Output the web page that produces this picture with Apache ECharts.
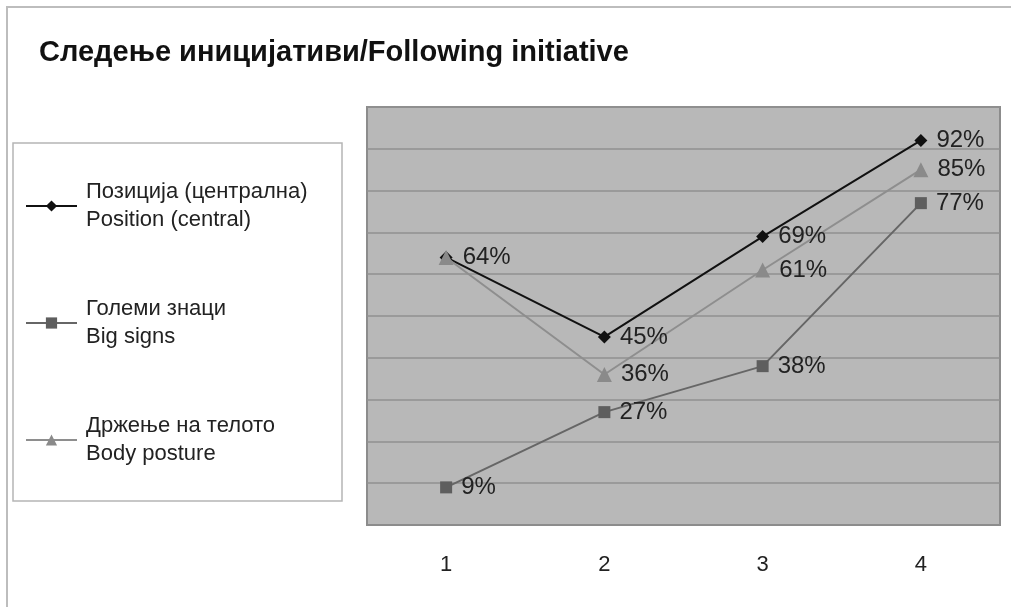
<!DOCTYPE html>
<html>
<head>
<meta charset="utf-8">
<script src="https://cdn.jsdelivr.net/npm/echarts@6/dist/echarts.min.js"></script>
<style>
  html, body { margin: 0; padding: 0; background: #fff; }
  #chart { width: 1011px; height: 607px; }
</style>
</head>
<body>
<div id="chart"></div>
<script>
  // data
  var categories = ['1', '2', '3', '4'];
  var positionValues = [64, 45, 69, 92];
  var bigSignsValues = [9, 27, 38, 77];
  var postureValues = [64, 36, 61, 85];
  var seriesNames = [
    'Позиција (централна)\nPosition (central)',
    'Големи знаци\nBig signs',
    'Држење на телото\nBody posture'
  ];

  var myChart = echarts.init(document.getElementById('chart'));

  var labelStyle = {
    show: true,
    position: 'right',
    distance: 9,
    fontFamily: 'Liberation Sans, Arial, sans-serif',
    fontSize: 24,
    color: '#222',
    formatter: function (p) { return p.value + '%'; }
  };

  var option = {
    backgroundColor: '#fff',
    animation: false,
    textStyle: { fontFamily: 'Liberation Sans, Arial, sans-serif' },
    title: {
      text: 'Следење иницијативи/Following initiative',
      left: 34,
      top: 33,
      textStyle: { fontSize: 29, fontWeight: 'bold', color: '#111' }
    },
    graphic: [{
      // outer frame
      type: 'rect',
      shape: { x: 7, y: 7, width: 1100, height: 700 },
      style: { fill: 'none', stroke: '#bdbdbd', lineWidth: 2 },
      silent: true
    }, {
      // legend box
      type: 'rect',
      shape: { x: 13, y: 143, width: 329, height: 358 },
      style: { fill: '#fff', stroke: '#b5b5b5', lineWidth: 1.5 },
      silent: true,
      z: -1
    }],
    legend: {
      orient: 'vertical',
      left: 25,
      top: 178,
      padding: 0,
      itemWidth: 51,
      itemHeight: 14,
      itemGap: 61,
      textStyle: { fontSize: 22, color: '#222', lineHeight: 28, padding: [0, 0, 0, 4] },
      data: seriesNames
    },
    grid: {
      left: 367,
      top: 107,
      right: 11,
      bottom: 82,
      show: true,
      backgroundColor: '#b8b8b8',
      borderColor: '#8c8c8c',
      borderWidth: 2
    },
    xAxis: {
      type: 'category',
      data: categories,
      boundaryGap: true,
      axisLine: { lineStyle: { color: '#8c8c8c', width: 2 } },
      axisTick: { length: 8, lineStyle: { color: '#8c8c8c' } },
      axisLabel: { fontSize: 22, color: '#222', margin: 29 }
    },
    yAxis: {
      type: 'value',
      min: 0,
      max: 100,
      interval: 10,
      axisLabel: { show: false },
      axisLine: { show: false },
      axisTick: { show: false },
      splitLine: { lineStyle: { color: '#909090', width: 1.5 } }
    },
    series: [{
      name: seriesNames[0],
      type: 'line',
      symbol: 'diamond',
      symbolSize: 13,
      lineStyle: { color: '#111', width: 2 },
      itemStyle: { color: '#111' },
      label: labelStyle,
      data: positionValues.map(function (v, i) {
        // first point sits under the posture triangle, only one label shows there
        return i === 0 ? { value: v, label: { show: false } } : v;
      })
    }, {
      name: seriesNames[1],
      type: 'line',
      symbol: 'rect',
      symbolSize: 12,
      lineStyle: { color: '#666', width: 2 },
      itemStyle: { color: '#5e5e5e' },
      label: labelStyle,
      data: bigSignsValues
    }, {
      name: seriesNames[2],
      type: 'line',
      symbol: 'triangle',
      symbolSize: 15,
      lineStyle: { color: '#8e8e8e', width: 2 },
      itemStyle: { color: '#8a8a8a' },
      label: labelStyle,
      data: postureValues
    }]
  };

  myChart.setOption(option);
</script>
</body>
</html>
